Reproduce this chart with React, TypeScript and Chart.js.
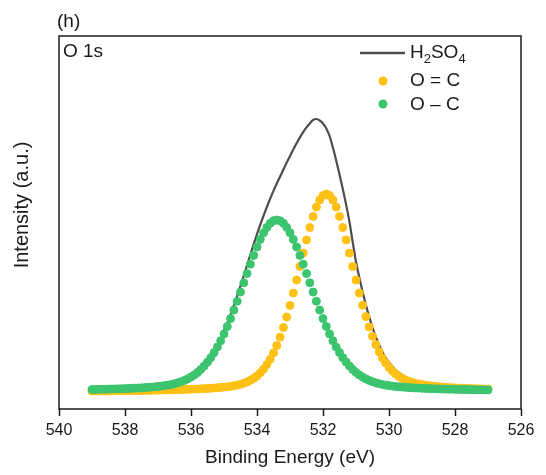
import React, { useEffect, useRef } from "react";
import { Chart, registerables } from "chart.js";

Chart.register(...registerables);

// Binding energy grid (eV), high to low
const energy: number[] = [
  539.0, 538.9, 538.8, 538.7, 538.6, 538.5, 538.4, 538.3, 538.2, 538.1,
  538.0, 537.9, 537.8, 537.7, 537.6, 537.5, 537.4, 537.3, 537.2, 537.1,
  537.0, 536.9, 536.8, 536.7, 536.6, 536.5, 536.4, 536.3, 536.2, 536.1,
  536.0, 535.9, 535.8, 535.7, 535.6, 535.5, 535.4, 535.3, 535.2, 535.1,
  535.0, 534.9, 534.8, 534.7, 534.6, 534.5, 534.4, 534.3, 534.2, 534.1,
  534.0, 533.9, 533.8, 533.7, 533.6, 533.5, 533.4, 533.3, 533.2, 533.1,
  533.0, 532.9, 532.8, 532.7, 532.6, 532.5, 532.4, 532.3, 532.2, 532.1,
  532.0, 531.9, 531.8, 531.7, 531.6, 531.5, 531.4, 531.3, 531.2, 531.1,
  531.0, 530.9, 530.8, 530.7, 530.6, 530.5, 530.4, 530.3, 530.2, 530.1,
  530.0, 529.9, 529.8, 529.7, 529.6, 529.5, 529.4, 529.3, 529.2, 529.1,
  529.0, 528.9, 528.8, 528.7, 528.6, 528.5, 528.4, 528.3, 528.2, 528.1,
  528.0, 527.9, 527.8, 527.7, 527.6, 527.5, 527.4, 527.3, 527.2, 527.1,
  527.0,
];

// Measured O 1s envelope (H2SO4)
const h2so4: number[] = [
  19.0, 19.1, 19.2, 19.4, 19.4, 19.5, 19.7, 19.8, 19.9, 20.1,
  20.2, 20.5, 20.6, 20.8, 21.0, 21.2, 21.5, 21.8, 22.1, 22.5,
  22.8, 23.3, 23.9, 24.5, 25.1, 26.0, 27.0, 28.2, 29.6, 31.3,
  33.3, 35.5, 38.1, 41.3, 44.9, 48.9, 53.5, 58.9, 64.7, 71.2,
  78.5, 86.2, 94.6, 103.7, 113.1, 123.1, 133.5, 144.0, 154.5, 164.8,
  174.8, 184.4, 193.5, 202.1, 210.3, 218.1, 225.5, 232.5, 239.5, 246.4,
  253.1, 259.6, 265.8, 271.6, 276.9, 281.6, 285.6, 289.0, 290.0, 288.5,
  285.5, 280.5, 273.0, 261.5, 248.5, 234.5, 220.0, 204.5, 187.5, 167.0,
  147.1, 131.6, 117.3, 104.0, 92.1, 81.5, 72.1, 64.1, 57.1, 51.4,
  46.5, 42.4, 39.0, 36.3, 34.0, 32.2, 30.6, 29.3, 28.2, 27.4,
  26.6, 25.9, 25.3, 24.8, 24.3, 23.9, 23.5, 23.1, 22.8, 22.6,
  22.3, 22.0, 21.8, 21.6, 21.4, 21.2, 21.1, 20.9, 20.8, 20.6,
  20.6,
];

// O = C component
const oDoubleC: number[] = [
  18.0, 18.0, 18.0, 18.1, 18.1, 18.1, 18.2, 18.2, 18.2, 18.3,
  18.3, 18.4, 18.4, 18.4, 18.5, 18.5, 18.6, 18.6, 18.7, 18.8,
  18.8, 18.9, 19.0, 19.1, 19.1, 19.2, 19.3, 19.4, 19.5, 19.7,
  19.8, 19.9, 20.0, 20.2, 20.4, 20.5, 20.7, 21.0, 21.2, 21.5,
  21.9, 22.2, 22.7, 23.3, 23.9, 24.7, 25.8, 27.1, 28.7, 30.7,
  33.1, 36.2, 39.9, 44.4, 49.7, 56.1, 63.4, 71.9, 81.4, 92.0,
  103.6, 116.0, 129.0, 142.5, 155.9, 169.1, 181.5, 192.6, 201.9, 209.0,
  213.5, 215.0, 213.5, 209.0, 201.9, 192.6, 181.5, 169.1, 155.9, 142.5,
  129.0, 116.0, 103.8, 92.4, 82.0, 72.7, 64.4, 57.3, 51.1, 46.0,
  41.6, 38.0, 35.0, 32.6, 30.6, 29.0, 27.7, 26.6, 25.7, 25.0,
  24.4, 23.8, 23.4, 23.0, 22.6, 22.3, 22.0, 21.7, 21.5, 21.3,
  21.1, 20.9, 20.8, 20.6, 20.5, 20.4, 20.3, 20.2, 20.1, 20.0,
  20.0,
];

// O – C component
const oSingleC: number[] = [
  19.5, 19.6, 19.7, 19.8, 19.8, 19.9, 20.0, 20.1, 20.2, 20.3,
  20.4, 20.6, 20.7, 20.9, 21.0, 21.2, 21.4, 21.7, 21.9, 22.2,
  22.5, 22.9, 23.4, 23.9, 24.5, 25.3, 26.2, 27.3, 28.6, 30.1,
  32.0, 34.1, 36.6, 39.6, 43.0, 46.9, 51.3, 56.4, 62.0, 68.2,
  75.1, 82.5, 90.4, 98.9, 107.7, 116.9, 126.2, 135.5, 144.8, 153.6,
  162.0, 169.6, 176.2, 181.6, 185.7, 188.2, 189.0, 188.2, 185.7, 181.6,
  176.2, 169.6, 162.0, 153.6, 144.8, 135.5, 126.2, 116.9, 107.7, 98.9,
  90.4, 82.5, 75.1, 68.2, 62.0, 56.4, 51.3, 46.9, 43.0, 39.6,
  36.6, 34.1, 32.0, 30.1, 28.6, 27.3, 26.2, 25.3, 24.5, 23.9,
  23.4, 22.9, 22.5, 22.2, 21.9, 21.7, 21.4, 21.2, 21.0, 20.9,
  20.7, 20.6, 20.4, 20.3, 20.2, 20.1, 20.0, 19.9, 19.8, 19.8,
  19.7, 19.6, 19.5, 19.5, 19.4, 19.3, 19.3, 19.2, 19.2, 19.1,
  19.1,
];

const xTicks: number[] = [540, 538, 536, 534, 532, 530, 528, 526];
const xRange = { min: 526, max: 540 };
const yRange = { min: 0, max: 373 };

const FONT = "'Liberation Sans', Arial, Helvetica, sans-serif";
const INK = "#1a1a1a";
const LINE_GREY = "#4d4d4d";
const YELLOW = "#ffc116";
const GREEN = "#3cc46e";

const toPoints = (ys: number[]) => energy.map((x, i) => ({ x, y: ys[i] }));

const decorations = {
  id: "decorations",
  afterDraw(chart: any) {
    const { ctx, chartArea: a } = chart;
    ctx.save();

    // frame around the plot area
    ctx.strokeStyle = INK;
    ctx.lineWidth = 1.5;
    ctx.strokeRect(a.left, a.top, a.right - a.left, a.bottom - a.top);

    ctx.fillStyle = INK;
    ctx.textBaseline = "middle";
    ctx.textAlign = "left";

    // panel tag and core level
    ctx.font = `19px ${FONT}`;
    ctx.fillText("(h)", 57, 22);
    ctx.fillText("O 1s", 63, 52);

    // axis titles
    ctx.textAlign = "center";
    ctx.fillText("Binding Energy (eV)", (a.left + a.right) / 2, 458);
    ctx.save();
    ctx.font = `20px ${FONT}`;
    ctx.translate(22, 205);
    ctx.rotate(-Math.PI / 2);
    ctx.fillText("Intensity (a.u.)", 0, 0);
    ctx.restore();

    // legend
    ctx.textAlign = "left";
    ctx.strokeStyle = LINE_GREY;
    ctx.lineWidth = 2.5;
    ctx.beginPath();
    ctx.moveTo(360, 53);
    ctx.lineTo(405, 53);
    ctx.stroke();

    let x = 410;
    const big = `19px ${FONT}`;
    const small = `13px ${FONT}`;
    const parts: [string, boolean][] = [["H", false], ["2", true], ["SO", false], ["4", true]];
    for (const [t, sub] of parts) {
      ctx.font = sub ? small : big;
      ctx.fillText(t, x, sub ? 59 : 52.5);
      x += ctx.measureText(t).width;
    }

    ctx.font = big;
    ctx.fillStyle = YELLOW;
    ctx.beginPath();
    ctx.arc(383, 81, 4.5, 0, Math.PI * 2);
    ctx.fill();
    ctx.fillStyle = GREEN;
    ctx.beginPath();
    ctx.arc(383, 104, 4.5, 0, Math.PI * 2);
    ctx.fill();
    ctx.fillStyle = INK;
    ctx.fillText("O = C", 410, 81);
    ctx.fillText("O \u2013 C", 410, 104.5);

    ctx.restore();
  },
};

export default function App() {
  const canvasRef = useRef<HTMLCanvasElement | null>(null);

  useEffect(() => {
    const canvas = canvasRef.current;
    if (!canvas) return;
    const chart = new Chart(canvas, {
      type: "scatter",
      data: {
        datasets: [
          {
            label: "O \u2013 C",
            data: toPoints(oSingleC),
            showLine: false,
            pointRadius: 4,
            pointBorderWidth: 1,
            pointBackgroundColor: GREEN,
            pointBorderColor: GREEN,
            order: 1,
          },
          {
            label: "O = C",
            data: toPoints(oDoubleC),
            showLine: false,
            pointRadius: 4,
            pointBorderWidth: 1,
            pointBackgroundColor: YELLOW,
            pointBorderColor: YELLOW,
            order: 2,
          },
          {
            label: "H2SO4",
            data: toPoints(h2so4),
            showLine: true,
            borderColor: LINE_GREY,
            borderWidth: 2.2,
            pointRadius: 0,
            cubicInterpolationMode: "monotone",
            order: 3,
          },
        ],
      },
      options: {
        responsive: false,
        animation: false,
        devicePixelRatio: 1,
        events: [],
        layout: { padding: { top: 36, right: 25, left: 0, bottom: 0 } },
        plugins: {
          legend: { display: false },
          tooltip: { enabled: false },
          title: { display: false },
        },
        scales: {
          x: {
            type: "linear",
            reverse: true,
            min: xRange.min,
            max: xRange.max,
            afterBuildTicks: (scale: any) => {
              scale.ticks = xTicks.map((v) => ({ value: v }));
            },
            afterFit: (scale: any) => {
              scale.height = 66;
            },
            border: { display: false },
            grid: {
              display: true,
              drawOnChartArea: false,
              drawTicks: true,
              tickLength: 7,
              tickWidth: 1.5,
              tickColor: INK,
              color: INK,
            },
            ticks: {
              color: INK,
              padding: 5,
              maxRotation: 0,
              autoSkip: false,
              font: { family: FONT, size: 16 },
              callback: (v: any) => String(v),
            },
          },
          y: {
            min: yRange.min,
            max: yRange.max,
            afterFit: (scale: any) => {
              scale.width = 59;
            },
            border: { display: false },
            grid: { display: false },
            ticks: { display: false },
          },
        },
      },
      plugins: [decorations],
    });
    return () => chart.destroy();
  }, []);

  return (
    <div style={{ position: "absolute", left: 0, top: 0, width: 546, height: 475, background: "#fff" }}>
      <canvas ref={canvasRef} width={546} height={475} />
    </div>
  );
}
